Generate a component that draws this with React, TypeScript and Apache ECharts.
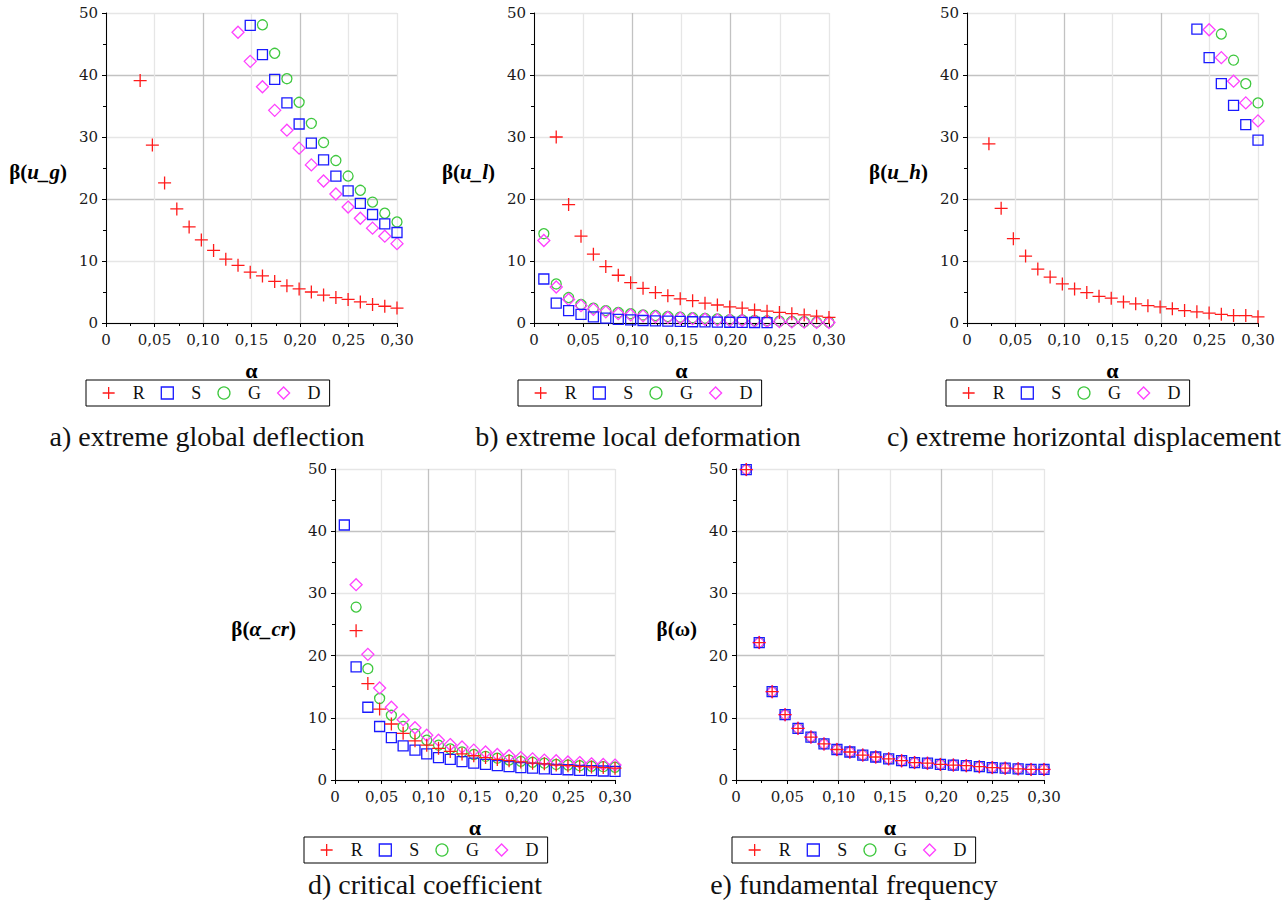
import React, { useEffect, useRef } from "react";
import * as echarts from "echarts";

const N = null;

// alpha values (x)
const alpha = [
  0.01, 0.0226, 0.0352, 0.0478, 0.0604, 0.073, 0.0857, 0.0983, 0.1109, 0.1235, 0.1361, 0.1487,
  0.1613, 0.1739, 0.1865, 0.1991, 0.2117, 0.2243, 0.237, 0.2496, 0.2622, 0.2748, 0.2874, 0.3,
];
const xTicks = ["0", "0,05", "0,10", "0,15", "0,20", "0,25", "0,30"];
const legendNames = ["R", "S", "G", "D"];

// a) extreme global deflection
const aR = [N, N, 39.1, 28.7, 22.6, 18.4, 15.5, 13.4, 11.7, 10.3, 9.3, 8.2, 7.6, 6.7, 6.0, 5.5, 5.0, 4.5, 4.1, 3.8, 3.4, 3.0, 2.7, 2.4];
const aS = [N, N, N, N, N, N, N, N, N, N, N, 48.0, 43.3, 39.3, 35.5, 32.1, 29.0, 26.3, 23.7, 21.3, 19.3, 17.5, 16.0, 14.6];
const aG = [N, N, N, N, N, N, N, N, N, N, N, N, 48.1, 43.5, 39.4, 35.6, 32.2, 29.1, 26.2, 23.7, 21.4, 19.5, 17.7, 16.3];
const aD = [N, N, N, N, N, N, N, N, N, N, 46.9, 42.2, 38.1, 34.3, 31.1, 28.2, 25.5, 22.9, 20.8, 18.7, 16.9, 15.3, 14.0, 12.8];

// b) extreme local deformation
const bR = [N, 30.0, 19.1, 14.0, 11.1, 9.1, 7.7, 6.5, 5.6, 4.9, 4.4, 3.9, 3.6, 3.2, 2.9, 2.6, 2.4, 2.1, 1.9, 1.7, 1.5, 1.3, 1.1, 0.9];
const bS = [7.1, 3.2, 2.0, 1.4, 1.0, 0.8, 0.6, 0.5, 0.4, 0.35, 0.3, 0.25, 0.2, 0.18, 0.15, 0.12, 0.1, 0.08, 0.06, N, N, N, N, N];
const bG = [14.4, 6.3, 4.1, 3.0, 2.4, 2.0, 1.7, 1.5, 1.3, 1.2, 1.05, 0.95, 0.85, 0.75, 0.65, 0.55, 0.5, 0.42, 0.35, 0.3, 0.25, 0.2, 0.15, 0.12];
const bD = [13.3, 5.8, 3.8, 2.8, 2.2, 1.8, 1.5, 1.3, 1.15, 1.0, 0.9, 0.8, 0.7, 0.6, 0.5, 0.45, 0.4, 0.33, 0.28, 0.22, 0.18, 0.14, 0.1, 0.08];

// c) extreme horizontal displacement
const cR = [N, 28.9, 18.5, 13.6, 10.8, 8.7, 7.4, 6.3, 5.5, 4.9, 4.3, 4.0, 3.4, 3.1, 2.8, 2.6, 2.3, 2.0, 1.8, 1.6, 1.4, 1.2, 1.2, 1.0];
const cS = [N, N, N, N, N, N, N, N, N, N, N, N, N, N, N, N, N, N, 47.4, 42.8, 38.6, 35.1, 32.0, 29.5];
const cG = [N, N, N, N, N, N, N, N, N, N, N, N, N, N, N, N, N, N, N, N, 46.6, 42.4, 38.6, 35.5];
const cD = [N, N, N, N, N, N, N, N, N, N, N, N, N, N, N, N, N, N, N, 47.3, 42.8, 39.0, 35.5, 32.6];

// d) critical coefficient
const dR = [N, 24.0, 15.5, 11.4, 9.0, 7.5, 6.3, 5.6, 5.1, 4.6, 4.2, 3.9, 3.6, 3.3, 3.1, 2.9, 2.7, 2.6, 2.4, 2.3, 2.2, 2.1, 2.0, 1.9];
const dS = [41.0, 18.2, 11.7, 8.6, 6.8, 5.5, 4.8, 4.2, 3.6, 3.3, 2.95, 2.7, 2.5, 2.3, 2.15, 2.0, 1.9, 1.8, 1.7, 1.65, 1.55, 1.5, 1.45, 1.4];
const dG = [N, 27.8, 17.9, 13.1, 10.4, 8.6, 7.4, 6.4, 5.6, 5.0, 4.5, 4.1, 3.8, 3.5, 3.2, 3.0, 2.85, 2.7, 2.5, 2.4, 2.3, 2.2, 2.15, 2.05];
const dD = [N, 31.4, 20.2, 14.8, 11.7, 9.7, 8.4, 7.2, 6.4, 5.7, 5.3, 4.8, 4.5, 4.1, 3.9, 3.6, 3.4, 3.2, 3.1, 2.9, 2.8, 2.6, 2.5, 2.4];

// e) fundamental frequency
const eR = [49.9, 22.1, 14.2, 10.5, 8.3, 6.9, 5.8, 4.9, 4.5, 4.0, 3.7, 3.4, 3.1, 2.8, 2.7, 2.5, 2.4, 2.3, 2.15, 2.0, 1.9, 1.8, 1.7, 1.7];
const eS = [49.9, 22.1, 14.2, 10.5, 8.3, 6.9, 5.8, 4.9, 4.5, 4.0, 3.7, 3.4, 3.1, 2.8, 2.7, 2.5, 2.4, 2.3, 2.15, 2.0, 1.9, 1.8, 1.7, 1.7];
const eG = [49.9, 22.1, 14.2, 10.5, 8.3, 6.9, 5.8, 4.9, 4.5, 4.0, 3.7, 3.4, 3.1, 2.8, 2.7, 2.5, 2.4, 2.3, 2.15, 2.0, 1.9, 1.8, 1.7, 1.7];
const eD = [49.9, 22.1, 14.2, 10.5, 8.3, 6.9, 5.8, 4.9, 4.5, 4.0, 3.7, 3.4, 3.1, 2.8, 2.7, 2.5, 2.4, 2.3, 2.15, 2.0, 1.9, 1.8, 1.7, 1.7];

const panels = [
  { R: aR, S: aS, G: aG, D: aD, yName: "{b|β(}{i|u_g}{b|)}", caption: "a) extreme global deflection" },
  { R: bR, S: bS, G: bG, D: bD, yName: "{b|β(}{i|u_l}{b|)}", caption: "b) extreme local deformation" },
  { R: cR, S: cS, G: cG, D: cD, yName: "{b|β(}{i|u_h}{b|)}", caption: "c) extreme horizontal displacement" },
  { R: dR, S: dS, G: dG, D: dD, yName: "{b|β(}{i|α_cr}{b|)}", caption: "d) critical coefficient" },
  { R: eR, S: eS, G: eG, D: eD, yName: "{b|β(ω)}", caption: "e) fundamental frequency" },
];

// layout (pixels)
const gridBoxes = [
  { left: 106, top: 13, width: 291, height: 310 },
  { left: 534, top: 13, width: 295, height: 310 },
  { left: 967, top: 13, width: 291, height: 310 },
  { left: 335, top: 469, width: 280, height: 311 },
  { left: 736, top: 469, width: 308, height: 311 },
];
const legendBoxes = [
  { left: 86, top: 380 },
  { left: 518, top: 380 },
  { left: 946, top: 380 },
  { left: 304, top: 837 },
  { left: 732, top: 837 },
];
const captionPos = [
  { x: 207, y: 436 },
  { x: 638, y: 436 },
  { x: 1084, y: 436 },
  { x: 425, y: 884 },
  { x: 854, y: 884 },
];

const RED = "#ff1a1a";
const BLUE = "#1a1aff";
const GREEN = "#3fc83f";
const MAG = "#ff40ff";
const PLUS = "path://M0,6L12,6M6,0L6,12";

const styleFor: Record<string, any> = {
  R: { symbol: PLUS, size: 13, color: RED },
  S: { symbol: "rect", size: 10, color: BLUE },
  G: { symbol: "circle", size: 10, color: GREEN },
  D: { symbol: "diamond", size: 12, color: MAG },
};

const SERIF = "Liberation Serif";
const TICKFONT = "DejaVu Serif";
const DARK = "#c2c2c2";
const LIGHT = "#e6e6e6";

function toPairs(ys: (number | null)[]) {
  const out: number[][] = [];
  ys.forEach((v, i) => {
    if (v !== null) out.push([alpha[i], v]);
  });
  return out;
}

function buildOption() {
  const grid: any[] = [];
  const xAxis: any[] = [];
  const yAxis: any[] = [];
  const series: any[] = [];
  const legend: any[] = [];
  const graphic: any[] = [];

  panels.forEach((p: any, k) => {
    const g = gridBoxes[k];
    grid.push({ ...g, containLabel: false });
    xAxis.push({
      type: "value",
      gridIndex: k,
      min: 0,
      max: 0.3,
      interval: 0.05,
      axisLine: { show: true, onZero: false, lineStyle: { color: "#000", width: 1 } },
      axisTick: { show: true, inside: false, length: 4, lineStyle: { color: "#000" } },
      minorTick: { show: true, splitNumber: 2, length: 3, lineStyle: { color: "#000" } },
      axisLabel: {
        margin: 9,
        fontFamily: TICKFONT,
        fontSize: 15,
        color: "#1a1a1a",
        formatter: (v: number) => xTicks[Math.round(v / 0.05)],
      },
      splitLine: { show: true, lineStyle: { color: [DARK, LIGHT, DARK, LIGHT, DARK, LIGHT, LIGHT], width: 1.3 } },
    });
    yAxis.push({
      type: "value",
      gridIndex: k,
      min: 0,
      max: 50,
      interval: 10,
      axisLine: { show: true, onZero: false, lineStyle: { color: "#000", width: 1 } },
      axisTick: { show: true, inside: false, length: 4, lineStyle: { color: "#000" } },
      minorTick: { show: true, splitNumber: 2, length: 3, lineStyle: { color: "#000" } },
      axisLabel: { margin: 8, fontFamily: TICKFONT, fontSize: 15, color: "#1a1a1a" },
      splitLine: { show: true, lineStyle: { color: [DARK, LIGHT], width: 1.3 } },
    });
    ["G", "D", "S", "R"].forEach((name) => {
      const st = styleFor[name];
      series.push({
        type: "scatter",
        name,
        xAxisIndex: k,
        yAxisIndex: k,
        data: toPairs(p[name]),
        symbol: st.symbol,
        symbolSize: st.size,
        itemStyle: { color: "rgba(0,0,0,0)", borderColor: st.color, borderWidth: 1.3, opacity: 1 },
        emphasis: { disabled: true },
        silent: true,
      });
    });
    legend.push({
      left: legendBoxes[k].left,
      top: legendBoxes[k].top,
      orient: "horizontal",
      selectedMode: false,
      padding: [4, 9, 4, 16],
      itemGap: 16,
      itemWidth: 12,
      itemHeight: 12,
      borderColor: "#000",
      borderWidth: 1,
      borderRadius: 0,
      formatter: (n: string) => "{t|" + n + "}",
      textStyle: {
        fontFamily: SERIF,
        fontSize: 18,
        color: "#111",
        rich: { t: { fontFamily: SERIF, fontSize: 18, color: "#111", padding: [0, 0, 0, 13], lineHeight: 18 } },
      },
      data: legendNames.map((n) => ({
        name: n,
        icon: styleFor[n].symbol,
        itemStyle: { color: "rgba(0,0,0,0)", borderColor: styleFor[n].color, borderWidth: 1.3 },
      })),
    });
    // y-axis name
    graphic.push({
      type: "text",
      x: g.left - 39,
      y: g.top + g.height / 2 + 4,
      style: {
        text: p.yName,
        align: "right",
        verticalAlign: "middle",
        fill: "#000",
        fontFamily: SERIF,
        fontSize: 21,
        fontWeight: "bold",
        rich: {
          b: { fontFamily: SERIF, fontWeight: "bold", fontSize: 21, fill: "#000" },
          i: { fontFamily: SERIF, fontWeight: "bold", fontStyle: "italic", fontSize: 21, fill: "#000" },
        },
      },
    });
    // x-axis name
    graphic.push({
      type: "text",
      x: g.left + g.width / 2,
      y: g.top + g.height + 47,
      style: {
        text: "α",
        align: "center",
        verticalAlign: "middle",
        fontFamily: SERIF,
        fontWeight: "bold",
        fontSize: 22,
        fill: "#000",
      },
    });
    // caption
    graphic.push({
      type: "text",
      x: captionPos[k].x,
      y: captionPos[k].y,
      style: {
        text: p.caption,
        align: "center",
        verticalAlign: "middle",
        fontFamily: SERIF,
        fontSize: 28,
        fill: "#111",
      },
    });
  });

  return {
    animation: false,
    backgroundColor: "#fff",
    grid,
    xAxis,
    yAxis,
    series,
    legend,
    graphic,
  };
}

export default function App() {
  const ref = useRef<HTMLDivElement>(null);
  useEffect(() => {
    if (!ref.current) return;
    const chart = echarts.init(ref.current, undefined, { renderer: "svg" });
    chart.setOption(buildOption() as any);
    return () => chart.dispose();
  }, []);
  return (
    <div
      ref={ref}
      style={{ position: "absolute", left: 0, top: 0, width: 1288, height: 915, background: "#fff" }}
    />
  );
}
